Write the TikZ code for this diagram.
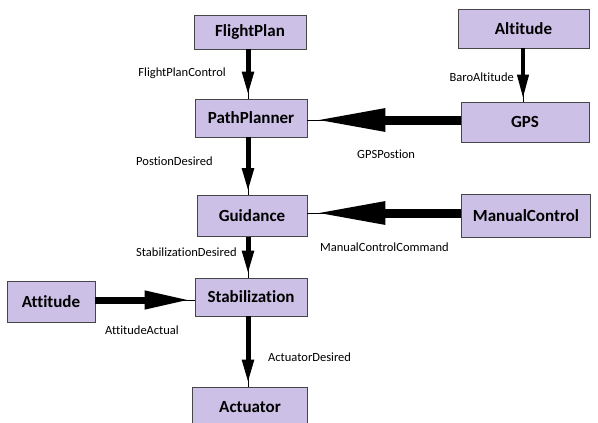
\documentclass[tikz,border=0pt]{standalone}
\usepackage{fontspec}
\setmainfont{Carlito}[Ligatures=NoCommon]
\usepackage{tikz}
\usetikzlibrary{arrows.meta}

\definecolor{boxfill}{RGB}{204,192,230}
\definecolor{boxline}{RGB}{70,70,70}

\tikzset{
  block/.style={draw=boxline, line width=0.8pt, fill=boxfill, inner sep=0pt,
    font=\bfseries\fontsize{17}{20}\selectfont},
  lbl/.style={inner sep=0pt, font=\fontsize{12.5}{14}\selectfont},
  link/.style={line width=0.8pt},
  vflow/.style={line width=5pt, -{Triangle[length=24pt,width=11pt]}, shorten >=3pt},
  hflow/.style={line width=9pt, -{Triangle[length=72pt,width=21pt]}, shorten >=6pt},
  aflow/.style={line width=7pt, -{Triangle[length=46pt,width=17pt]}, shorten >=4pt}
}

\begin{document}
\begin{tikzpicture}[x=1pt,y=1pt,yscale=-1]
\useasboundingbox (0,0) rectangle (598,423);

% Blocks
\node [block, minimum width=112pt, minimum height=34pt] (flightplan) at (250,32) {FlightPlan};
\node [block, minimum width=112pt, minimum height=38pt] (pathplanner) at (251,118) {PathPlanner};
\node [block, minimum width=131pt, minimum height=39pt] (altitude) at (523.5,28.5) {Altitude};
\node [block, minimum width=128pt, minimum height=40pt] (gps) at (525,122) {GPS};
\node [block, minimum width=110pt, minimum height=41pt] (guidance) at (252,216) {Guidance};
\node [block, minimum width=129pt, minimum height=43pt] (manual) at (526,216) {ManualControl};
\node [block, minimum width=112pt, minimum height=38pt] (stabilization) at (251,297) {Stabilization};
\node [block, minimum width=88pt, minimum height=41pt] (attitude) at (51,302) {Attitude};
\node [block, minimum width=115pt, minimum height=40pt] (actuator) at (250,407) {Actuator};

% Vertical flows
\draw [link] (flightplan.south -| 248,0) -- (pathplanner.north -| 248,0);
\draw [vflow] (flightplan.south -| 248,0) -- (pathplanner.north -| 248,0);
\draw [link] (altitude.south -| 523,0) -- (gps.north -| 523,0);
\draw [vflow, line width=4pt] (altitude.south -| 523,0) -- (gps.north -| 523,0);
\draw [link] (pathplanner.south -| 248,0) -- (guidance.north -| 248,0);
\draw [vflow] (pathplanner.south -| 248,0) -- (guidance.north -| 248,0);
\draw [link] (guidance.south -| 248,0) -- (stabilization.north -| 248,0);
\draw [vflow] (guidance.south -| 248,0) -- (stabilization.north -| 248,0);
\draw [link] (stabilization.south -| 248,0) -- (actuator.north -| 248,0);
\draw [vflow] (stabilization.south -| 248,0) -- (actuator.north -| 248,0);

% Horizontal flows
\draw [link] (gps.west |- 0,120) -- (pathplanner.east |- 0,120);
\draw [hflow] (gps.west |- 0,120) -- (pathplanner.east |- 0,120);
\draw [link] (manual.west |- 0,213) -- (guidance.east |- 0,213);
\draw [hflow] (manual.west |- 0,213) -- (guidance.east |- 0,213);
\draw [link] (attitude.east |- 0,300) -- (stabilization.west |- 0,300);
\draw [aflow] (attitude.east |- 0,300) -- (stabilization.west |- 0,300);

% Text Node
\node [lbl, anchor=east] (t1) at (226,73) {FlightPlanControl};
\node [lbl, anchor=east] (t2) at (514,77) {BaroAltitude};
\node [lbl, anchor=west] (t3) at (136,161) {PostionDesired};
\node [lbl, anchor=west] (t4) at (357,154) {GPSPostion};
\node [lbl, anchor=west] (t5) at (136,252) {StabilizationDesired};
\node [lbl, anchor=west] (t6) at (320,247) {ManualControlCommand};
\node [lbl, anchor=west] (t7) at (105,330) {AttitudeActual};
\node [lbl, anchor=west] (t8) at (268,357) {ActuatorDesired};
\end{tikzpicture}
\end{document}
